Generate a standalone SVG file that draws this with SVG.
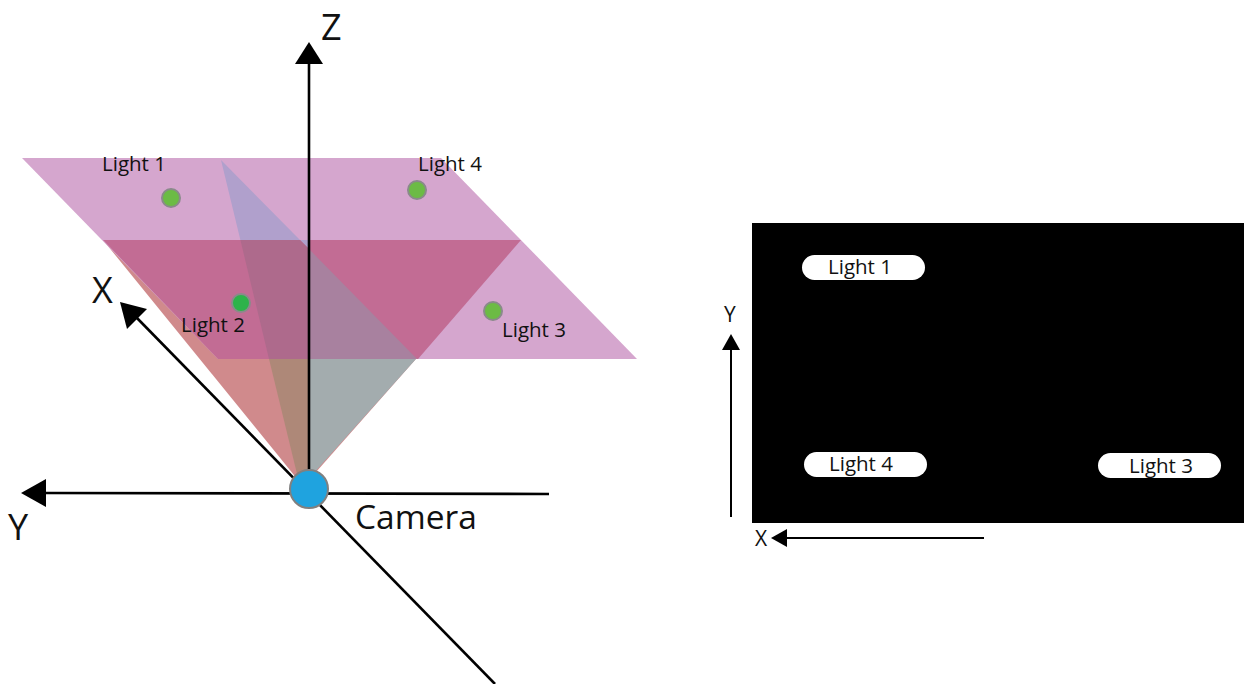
<svg xmlns="http://www.w3.org/2000/svg" width="1244" height="684" viewBox="0 0 1244 684">
<defs><style>
text{font-family:"Open Sans","Noto Sans","Liberation Sans",sans-serif;fill:#111}
.lab{font-size:20.5px}
.pl{font-size:20.5px;text-anchor:middle}
.ax{stroke:#000;stroke-width:2.6;fill:none}
.ax2{stroke:#000;stroke-width:2;fill:none}
.lt{stroke:#8a8a8a;stroke-width:2}
.pill{fill:#fff}
</style></defs>
<rect width="1244" height="684" fill="#fff"/>
<g id="plane-view">
<polygon points="103,240 521,240 309,480 298,480" fill="#D08A8C"/>
<polygon points="22,158 441,158 637,359 218,359" fill="#D5A6CE"/>
<polygon points="103,240 521,240 418,359 218,359" fill="#C26C94"/>
<polygon points="221,160 300,240 240.4,240" fill="#B0A0CC"/>
<polygon points="300,240 309,249 309,240" fill="#B0A0CC"/>
<polygon points="240.4,240 300,240 309,249 309,359 269,359" fill="#AE6A8C"/>
<polygon points="309,249 417,359 309,359" fill="#A8819F"/>
<polygon points="269,359 309,359 309,480 298,478" fill="#AE8878"/>
<polygon points="309,359 416,359 313,474 309,480" fill="#A3ACAE"/>
</g>
<g id="connectors">
<line class="ax" x1="309" y1="480" x2="309" y2="62"/>
<polygon points="309,42 323,64 295,64" fill="#000"/>
<line class="ax" x1="549" y1="494" x2="44" y2="493"/>
<polygon points="21,493 46,479 46,507" fill="#000"/>
<line class="ax" x1="495" y1="684" x2="136" y2="317"/>
<polygon points="120,302 147,309 127,329" fill="#000"/>
<line class="ax2" x1="731" y1="517" x2="731" y2="348"/>
<polygon points="731,334 740,350 722,350" fill="#000"/>
<line class="ax2" x1="984" y1="538" x2="785" y2="538"/>
<polygon points="771,538 787,529 787,547" fill="#000"/>
</g>
<g id="camera"><circle cx="309" cy="489" r="19" fill="#1FA3DF" stroke="#808080" stroke-width="2"/><text x="355" y="529" font-size="33.5">Camera</text></g>
<g id="light1"><circle class="lt" cx="171" cy="198" r="9" fill="#6CBB45"/><text class="lab" x="102" y="171">Light 1</text></g>
<g id="light2"><circle class="lt" cx="241" cy="303" r="9" fill="#2DB34A"/><text class="lab" x="181" y="332">Light 2</text></g>
<g id="light3"><circle class="lt" cx="493" cy="311" r="9" fill="#6CBB45"/><text class="lab" x="502" y="337">Light 3</text></g>
<g id="light4"><circle class="lt" cx="417" cy="190" r="9" fill="#6CBB45"/><text class="lab" x="418" y="171">Light 4</text></g>
<g id="axis-labels">
<text x="321" y="40" font-size="36">Z</text>
<text x="92" y="303" font-size="36">X</text>
<text x="8" y="540" font-size="36">Y</text>
</g>
<g id="image-view"><rect x="752" y="223" width="492" height="300" fill="#000"/></g>
<g id="pill1"><rect class="pill" x="802" y="255" width="123" height="25" rx="12.5"/><text class="pl" x="860" y="274">Light 1</text></g>
<g id="pill4"><rect class="pill" x="804" y="452" width="123" height="25" rx="12.5"/><text class="pl" x="861" y="471">Light 4</text></g>
<g id="pill3"><rect class="pill" x="1098" y="453" width="123" height="25" rx="12.5"/><text class="pl" x="1161" y="473">Light 3</text></g>
<g id="view-labels">
<text x="724" y="322" font-size="21">Y</text>
<text x="755" y="546" font-size="21">X</text>
</g>
</svg>
